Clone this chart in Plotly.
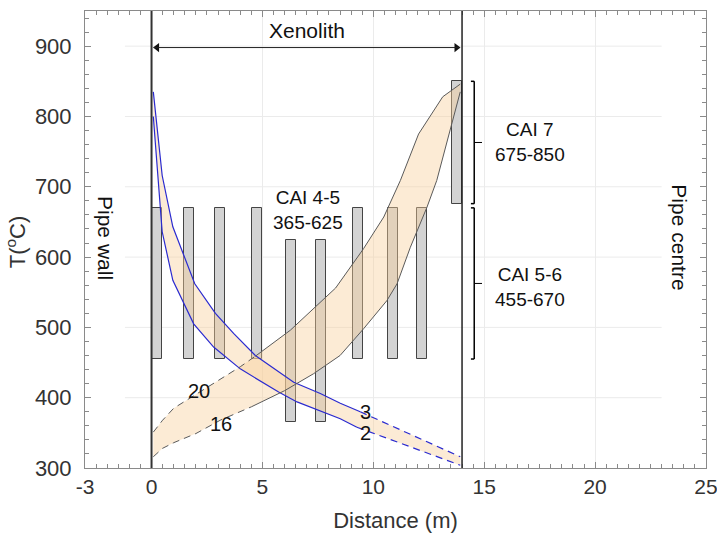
import plotly.graph_objects as go

# ---- data ----
bar_x = [0.23, 1.69, 3.07, 4.75, 6.28, 7.63, 9.30, 10.87, 12.20, 13.76]
bar_low = [455, 455, 455, 455, 365, 365, 455, 455, 455, 675]
bar_high = [670, 670, 670, 670, 625, 625, 670, 670, 670, 850]

# cooling band (curves labelled 3 and 2)
a_upper_x = [0.08, 0.48, 0.96, 1.95, 2.88, 3.71, 4.68, 6.41, 7.61, 8.51, 9.41, 13.92]
a_upper_y = [835, 716, 643, 562, 520, 491, 460, 422, 406, 392, 380, 316]
a_lower_x = [0.08, 0.48, 0.96, 1.45, 1.90, 2.80, 4.00, 5.73, 6.56, 8.51, 9.26, 13.92]
a_lower_y = [800, 636, 567, 534, 505, 472, 441, 408, 394, 370, 358, 304]

# heating band (curves labelled 20 and 16)
b_upper_x = [0.08, 0.5, 1.0, 2.5, 4.0, 4.68, 6.26, 8.3, 9.56, 10.47, 11.22, 12.04, 13.13, 13.92]
b_upper_y = [351, 368, 385, 415, 444, 459, 496, 556, 612, 657, 709, 775, 828, 846]
b_lower_x = [0.08, 0.5, 1.0, 2.0, 3.1, 4.5, 6.0, 7.3, 8.5, 9.56, 10.61, 11.07, 11.67, 12.42, 12.86, 13.92]
b_lower_y = [316, 328, 336, 349, 368, 387, 410, 434, 460, 498, 538, 562, 614, 671, 709, 835]

x_ticks = [-3, 0, 5, 10, 15, 20, 25]
y_ticks = [300, 400, 500, 600, 700, 800, 900]

FONT = "Arial, Liberation Sans, sans-serif"
fig = go.Figure()

# CAI bars
fig.add_trace(go.Bar(
    x=bar_x, y=[h - l for h, l in zip(bar_high, bar_low)], base=bar_low,
    width=0.46, marker=dict(color="#d3d3d3", line=dict(color="#444", width=1)),
    showlegend=False, hoverinfo="skip"))

def band(ux, uy, lx, ly):
    fig.add_trace(go.Scatter(
        x=ux + lx[::-1], y=uy + ly[::-1], mode="lines", fill="toself",
        fillcolor="rgba(247,208,155,0.42)", line=dict(width=0),
        showlegend=False, hoverinfo="skip"))

band(a_upper_x, a_upper_y, a_lower_x, a_lower_y)
band(b_upper_x, b_upper_y, b_lower_x, b_lower_y)

def seg(xs, ys, color, dash, width=1.2):
    fig.add_trace(go.Scatter(x=xs, y=ys, mode="lines",
                             line=dict(color=color, width=width, dash=dash),
                             showlegend=False, hoverinfo="skip"))

BLUE = "#2a2ad0"
GREY = "#5a5a5a"
# blue curves: solid then dashed
seg(a_upper_x[:11], a_upper_y[:11], BLUE, "solid")
seg(a_upper_x[10:], a_upper_y[10:], BLUE, "7px,5px")
seg(a_lower_x[:11], a_lower_y[:11], BLUE, "solid")
seg(a_lower_x[10:], a_lower_y[10:], BLUE, "7px,5px")
# grey curves: dashed then solid
seg(b_upper_x[:6], b_upper_y[:6], GREY, "7px,5px", 1)
seg(b_upper_x[5:], b_upper_y[5:], GREY, "solid", 1)
seg(b_lower_x[:6], b_lower_y[:6], GREY, "7px,5px", 1)
seg(b_lower_x[5:], b_lower_y[5:], GREY, "solid", 1)

shapes = []
# partial horizontal gridlines
for yv in y_ticks[1:]:
    shapes.append(dict(type="line", xref="x", yref="y", x0=-1.2, x1=23, y0=yv, y1=yv,
                       line=dict(color="#ebebeb", width=1), layer="below"))
# xenolith boundaries
shapes.append(dict(type="line", xref="x", yref="y", x0=0, x1=0, y0=300, y1=950,
                   line=dict(color="#333", width=2)))
shapes.append(dict(type="line", xref="x", yref="y", x0=14, x1=14, y0=300, y1=950,
                   line=dict(color="#222", width=1.5)))
# xenolith double arrow shaft
shapes.append(dict(type="line", xref="x", yref="y", x0=0.1, x1=13.9, y0=898, y1=898,
                   line=dict(color="#222", width=1)))
# brackets
for lo, hi in [(676, 850), (455, 670)]:
    xb = 14.55
    shapes.append(dict(type="line", xref="x", yref="y", x0=xb, x1=xb, y0=lo, y1=hi,
                       line=dict(color="black", width=1.5)))
    for yy in (lo, hi):
        shapes.append(dict(type="line", xref="x", yref="y", x0=xb - 0.15, x1=xb, y0=yy, y1=yy,
                           line=dict(color="black", width=1.5)))
    mid = (lo + hi) / 2
    shapes.append(dict(type="line", xref="x", yref="y", x0=xb, x1=xb + 0.35, y0=mid, y1=mid,
                       line=dict(color="black", width=1)))

# arrowheads for the xenolith arrow
fig.add_trace(go.Scatter(x=[0.25, 13.75], y=[898, 898], mode="markers",
                         marker=dict(symbol=["triangle-left", "triangle-right"], size=8, color="#111"),
                         showlegend=False, hoverinfo="skip"))

ann = []
def txt(x, y, t, size=19, angle=0, xanchor="center"):
    ann.append(dict(x=x, y=y, xref="x", yref="y", text=t, showarrow=False,
                    font=dict(family=FONT, size=size, color="#111"),
                    textangle=angle, xanchor=xanchor, yanchor="middle"))

txt(7, 922, "Xenolith", 21)
txt(7.05, 667, "CAI 4-5<br>365-625")
txt(15.4, 763, "CAI 7<br>675-850", xanchor="left")
txt(15.4, 558, "CAI 5-6<br>455-670", xanchor="left")
txt(-2.05, 627, "Pipe wall", 21, 90)
txt(23.83, 628, "Pipe centre", 21, 90)
txt(2.16, 410, "20", 20)
txt(3.12, 363, "16", 20)
txt(9.64, 379, "3", 20)
txt(9.64, 350, "2", 20)

# y-axis title placed as a paper annotation
ann.append(dict(x=-0.112, y=0.495, xref="paper", yref="paper", text="T(<sup>o</sup>C)",
                showarrow=False, textangle=-90, xanchor="center", yanchor="middle",
                font=dict(family=FONT, size=22, color="#333")))

fig.update_layout(
    width=717, height=533,
    margin=dict(l=84.6, r=11, t=10.7, b=65.3),
    plot_bgcolor="white", paper_bgcolor="white",
    font=dict(family=FONT, color="#333"),
    shapes=shapes, annotations=ann, bargap=0,
    xaxis=dict(range=[-3, 25], tickvals=x_ticks, ticktext=[str(v) for v in x_ticks],
               showgrid=True, gridcolor="#ebebeb", zeroline=False, automargin=False,
               ticklabeloverflow="allow",
               showline=True, linecolor="#8a8a8a", linewidth=1, mirror="ticks",
               ticks="inside", ticklen=6, tickcolor="#8a8a8a",
               tickfont=dict(size=21, color="#333"),
               minor=dict(dtick=0.5, tick0=0, ticks="inside", ticklen=4, tickcolor="#8a8a8a", showgrid=False),
               title=dict(text="Distance (m)", font=dict(size=22, color="#333"), standoff=15)),
    yaxis=dict(range=[300, 950], tickvals=y_ticks,
               showgrid=False, zeroline=False, automargin=False,
               ticklabeloverflow="allow", ticklabelstandoff=8,
               showline=True, linecolor="#8a8a8a", linewidth=1, mirror="ticks",
               ticks="inside", ticklen=6, tickcolor="#8a8a8a",
               tickfont=dict(size=22, color="#333"),
               minor=dict(dtick=20, tick0=0, ticks="inside", ticklen=4, tickcolor="#8a8a8a", showgrid=False)),
)

# remove the default 8px page margin so the figure fills the window exactly
fig.write_html("out.html", config={"displayModeBar": False},
               post_script="document.body.style.margin='0px';")
